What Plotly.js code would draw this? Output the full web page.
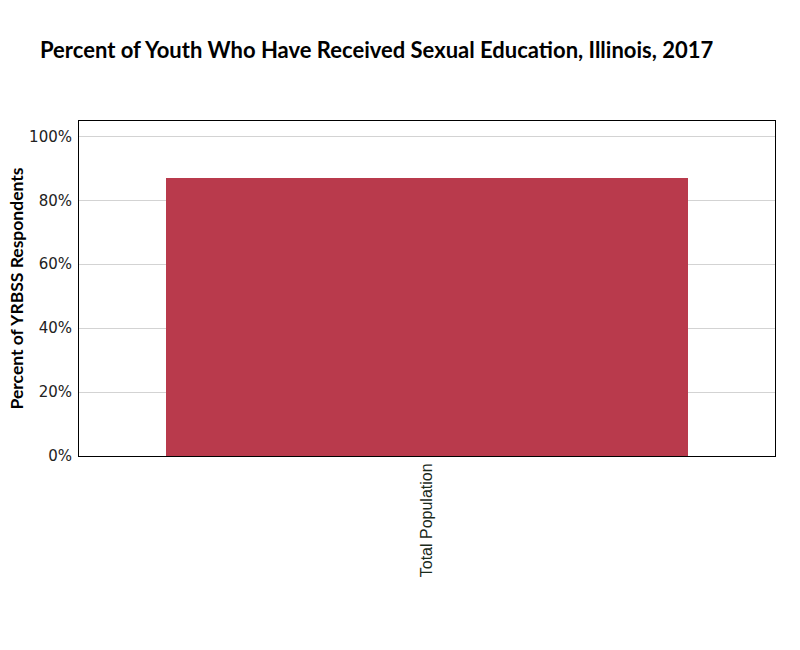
<!DOCTYPE html>
<html>
<head>
<meta charset="utf-8">
<script src="https://cdn.plot.ly/plotly-3.0.1.min.js"></script>
<style>html,body{margin:0;padding:0;background:#fff;}#chart{width:800px;height:650px;}</style>
</head>
<body>
<div id="chart"></div>
<script>
const categories = ["Total Population"];
const values = [0.87];
const tickVals = [0, 0.2, 0.4, 0.6, 0.8, 1.0];
const tickText = ["0%", "20%", "40%", "60%", "80%", "100%"];

const trace = {
  type: "bar",
  x: categories,
  y: values,
  marker: {color: "#b93a4c"},
  hoverinfo: "x+y"
};

const layout = {
  width: 800,
  height: 650,
  margin: {l: 79, r: 25, t: 121, b: 194},
  paper_bgcolor: "#ffffff",
  plot_bgcolor: "#ffffff",
  bargap: 0.25,
  showlegend: false,
  title: {
    text: "<b>Percent of Youth Who Have Received Sexual Education, Illinois, 2017</b>",
    x: 0.05, xanchor: "left",
    y: 0.923, yanchor: "middle",
    font: {family: "Lato, Noto Sans", size: 22, color: "#000"}
  },
  xaxis: {
    type: "category",
    tickangle: -90,
    tickfont: {family: "Liberation Sans, Arial", size: 16, color: "#1a2a1a"},
    showline: true, linecolor: "#000", linewidth: 1, mirror: true,
    ticks: "", showgrid: false
  },
  yaxis: {
    range: [0, 1.048],
    tickvals: tickVals,
    ticktext: tickText,
    tickfont: {family: "DejaVu Sans, Tahoma", size: 15, color: "#222"},
    ticklabelstandoff: 3,
    showline: true, linecolor: "#000", linewidth: 1, mirror: true,
    gridcolor: "#d3d3d3", gridwidth: 1,
    zeroline: false,
    ticks: "",
    title: {text: "<b>Percent of YRBSS Respondents</b>", font: {family: "Lato, Noto Sans", size: 17.5, color: "#000"}, standoff: 0}
  }
};

Plotly.newPlot("chart", [trace], layout, {displayModeBar: false, staticPlot: true});
</script>
</body>
</html>
